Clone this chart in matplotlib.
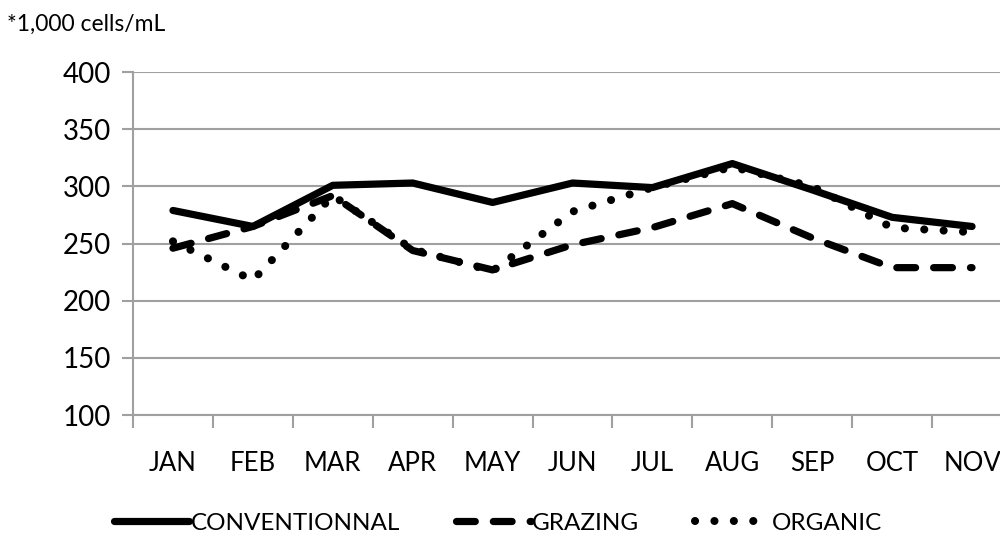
import matplotlib.pyplot as plt
from matplotlib.ticker import MultipleLocator

plt.rcParams['font.family'] = ['Lato', 'DejaVu Sans']

months = ['JAN', 'FEB', 'MAR', 'APR', 'MAY', 'JUN', 'JUL', 'AUG', 'SEP', 'OCT', 'NOV']
conventional = [279, 265, 301, 303, 286, 303, 299, 320, 297, 273, 265]
grazing = [246, 265, 292, 244, 227, 249, 264, 285, 255, 229, 229]
organic = [252, 218, 292, 245, 226, 278, 299, 317, 300, 264, 260]

fig = plt.figure(figsize=(10, 5.42), dpi=100)
ax = fig.add_axes([0.133, 0.234, 0.879, 0.633])

x = range(len(months))
ax.plot(x, conventional, color='black', lw=5.2, solid_capstyle='round',
        solid_joinstyle='round', label='CONVENTIONNAL', zorder=3)
ax.plot(x, grazing, color='black', lw=5.2, linestyle=(0, (2.6, 2.5)),
        dash_capstyle='round', dash_joinstyle='round', label='GRAZING', zorder=3)
ax.plot(x, organic, color='black', lw=5.8, linestyle=(0, (0.01, 2.4)),
        dash_capstyle='round', label='ORGANIC', zorder=3)

ax.set_ylim(100, 400)
ax.set_xlim(-0.5, 10.5)
ax.yaxis.set_major_locator(MultipleLocator(50))
ax.grid(axis='y', color='#a0a0a0', lw=1.5)
ax.set_axisbelow(True)

ax.set_xticks(list(x))
ax.set_xticklabels(months)
ax.set_xticks([i - 0.5 for i in range(len(months) + 1)], minor=True)
ax.tick_params(axis='x', which='major', length=0, pad=26, labelsize=18.5)
ax.tick_params(axis='x', which='minor', length=9, width=1.5, color='#a0a0a0', direction='out')
ax.tick_params(axis='y', length=8, width=1.5, color='#a0a0a0', labelsize=20, pad=8)

for s in ['top', 'right']:
    ax.spines[s].set_visible(False)
for s in ['left', 'bottom']:
    ax.spines[s].set_color('#a0a0a0')
    ax.spines[s].set_linewidth(1.5)

fig.text(0.007, 0.955, '*1,000 cells/mL', fontsize=16.5, va='center')

fig.legend(loc='center', bbox_to_anchor=(0.498, 0.035), ncol=3, frameon=False,
           fontsize=17.5, handlelength=3.1, handletextpad=0.05, columnspacing=2.3)

plt.savefig('out.png', dpi=100)
